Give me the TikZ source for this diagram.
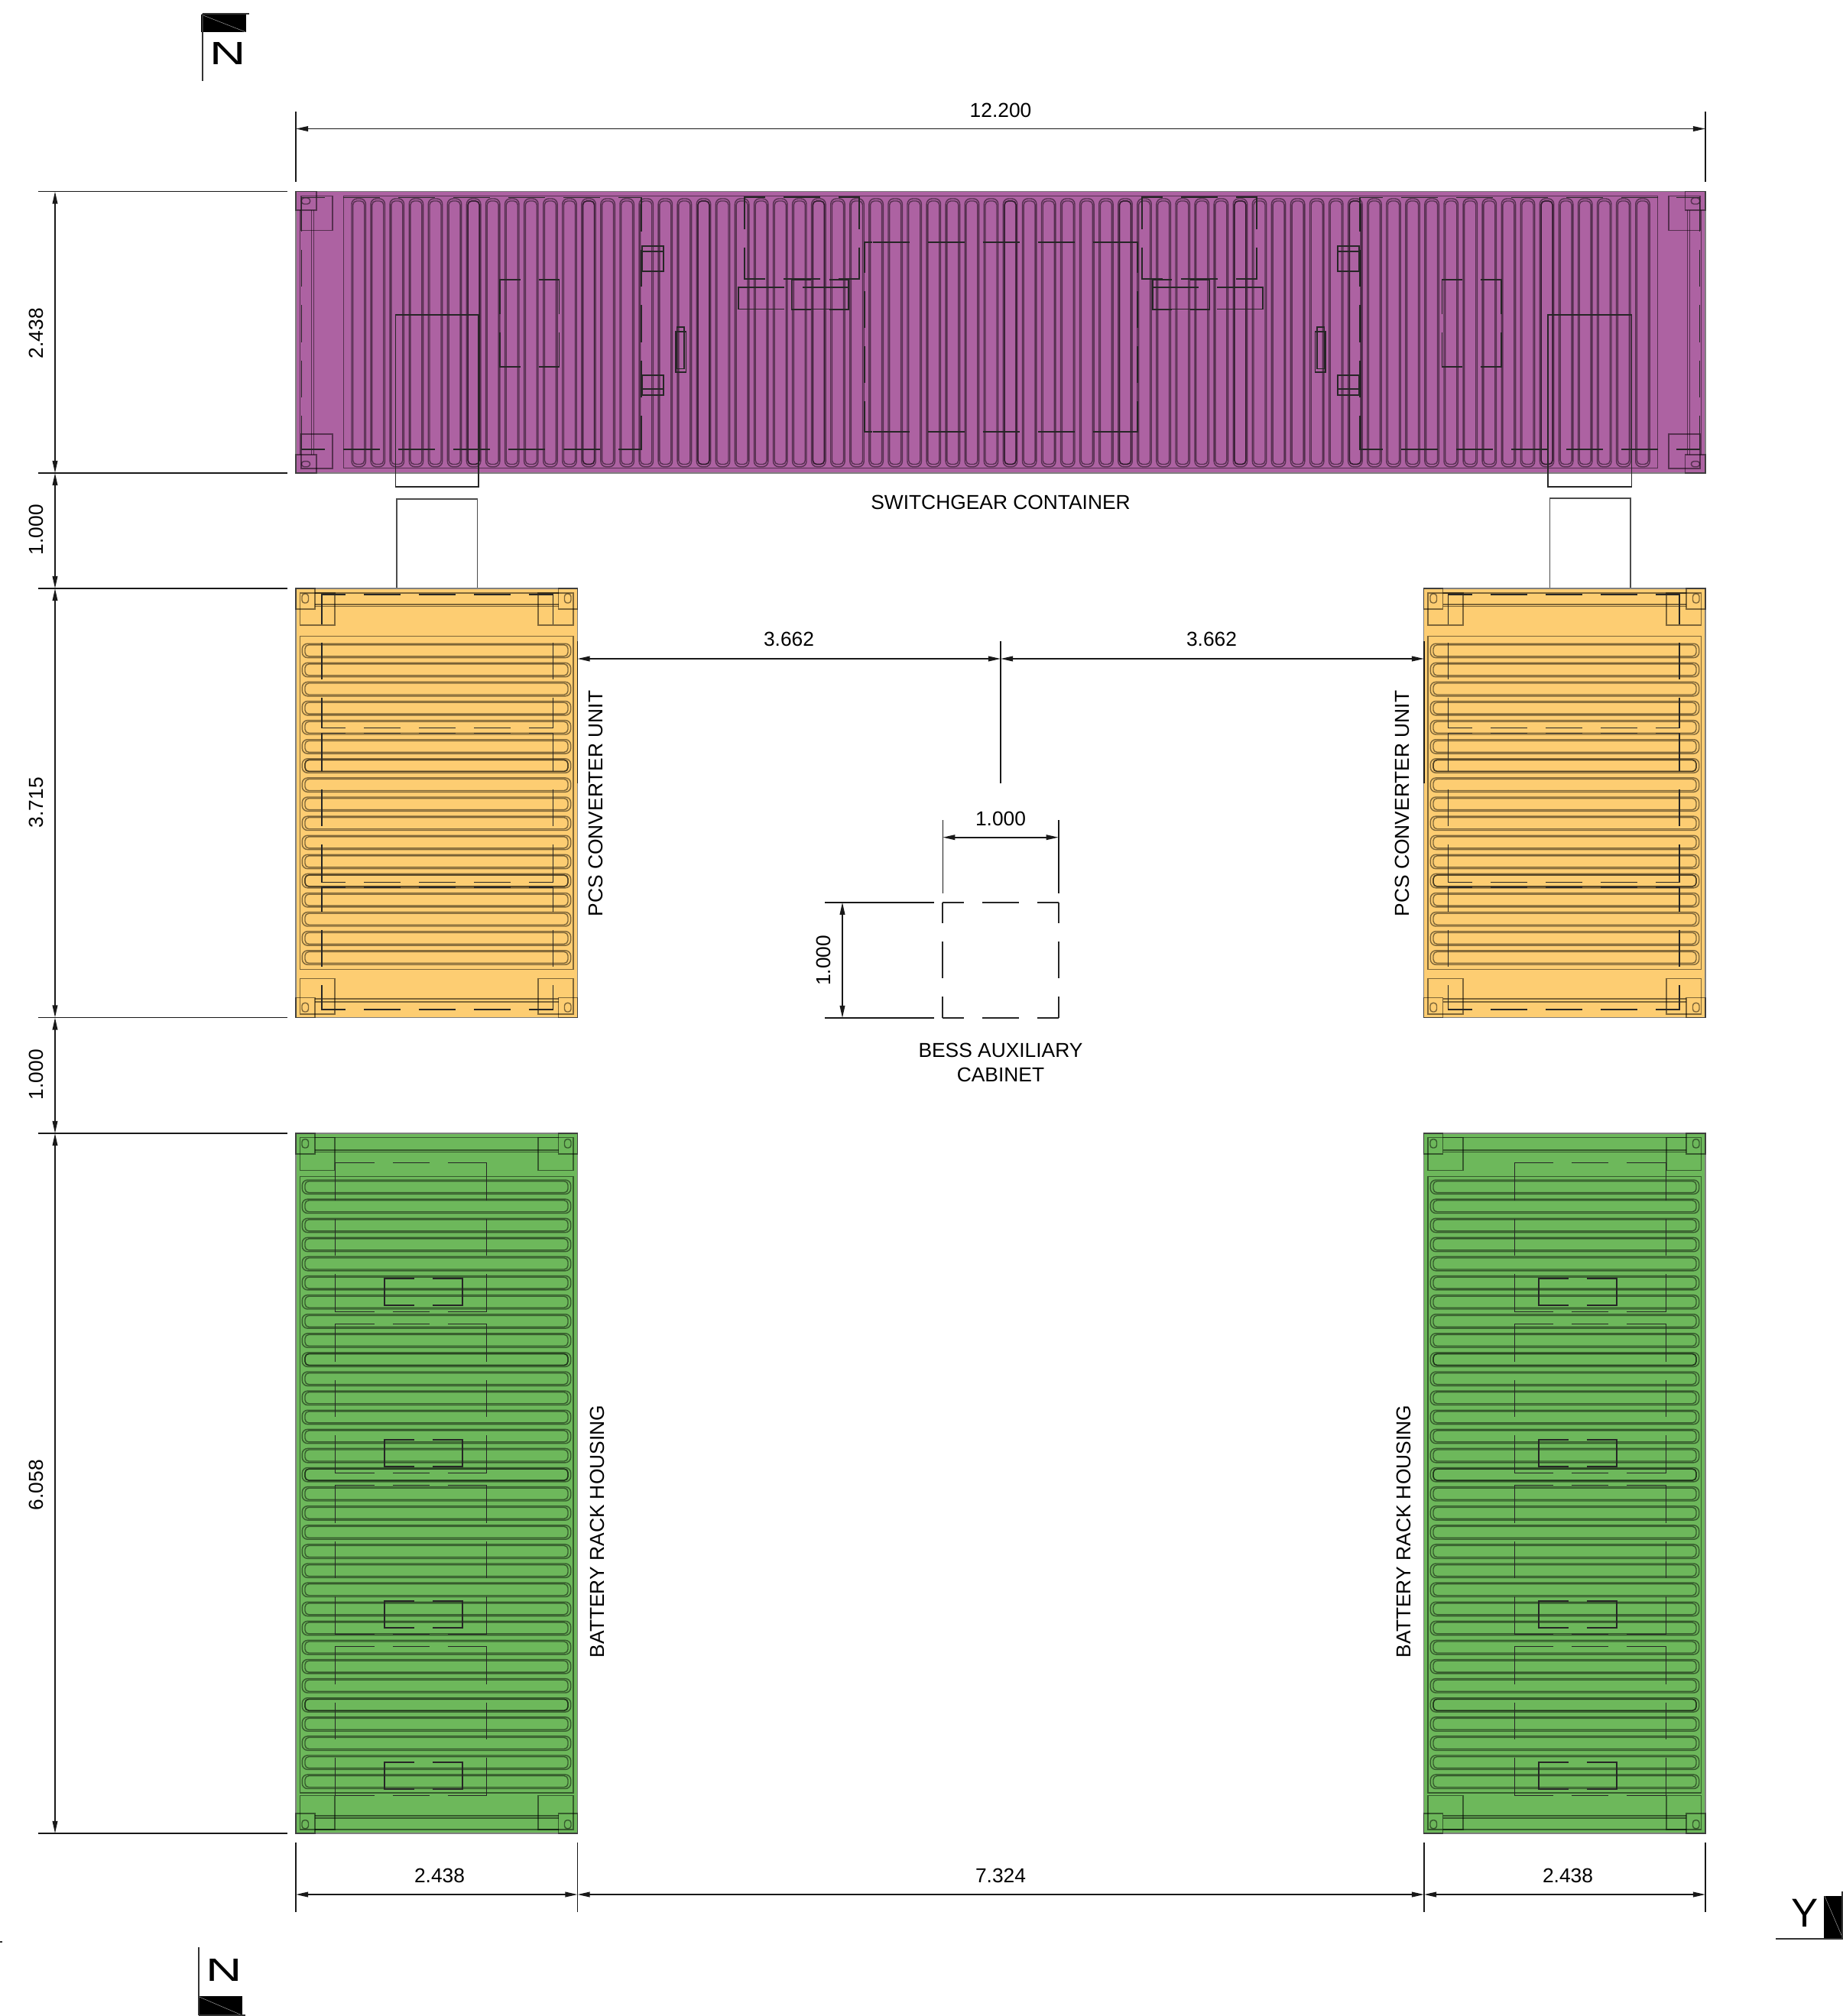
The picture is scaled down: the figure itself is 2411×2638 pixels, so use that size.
\documentclass[tikz,border=0pt]{standalone}
\usepackage{fontspec}
\setmainfont{Liberation Sans}
\usetikzlibrary{arrows.meta,positioning}
\definecolor{swfill}{HTML}{AD62A2}
\definecolor{pcsfill}{HTML}{FDCD72}
\definecolor{batfill}{HTML}{6DB85B}

% one side of a dashed outline, a dash (or with shift 36 a gap) in its middle
\newcommand{\dashseg}[6][dashline]{%
  \pgfmathsetmacro{\seglen}{abs(#4-#2)+abs(#5-#3)}%
  \pgfmathsetmacro{\segphase}{mod(24-\seglen/2+#6+720,72)*0.2845}%
  \draw[#1,dash phase=\segphase pt] (#2,#3) -- (#4,#5);%
}
\newcommand{\dashedrect}[6]{%
  \dashseg{#1}{#2}{#3}{#2}{#5}\dashseg{#1}{#4}{#3}{#4}{#5}%
  \dashseg{#1}{#2}{#1}{#4}{#6}\dashseg{#3}{#2}{#3}{#4}{#6}%
  \draw[detail] (#1+4,#2) -- (#1,#2) -- (#1,#2+4) (#3-4,#2) -- (#3,#2) -- (#3,#2+4)
    (#1+4,#4) -- (#1,#4) -- (#1,#4-4) (#3-4,#4) -- (#3,#4) -- (#3,#4-4);%
}
% rectangle open in the middle of its long sides
\newcommand{\splitrect}[7][detail]{%
  \draw[#1] (#6,#3) -- (#2,#3) -- (#2,#5) -- (#6,#5);%
  \draw[#1] (#7,#3) -- (#4,#3) -- (#4,#5) -- (#7,#5);%
}
\newcommand{\cornerposts}[4]{%
  \foreach \xa/\xb in {387/412,730.5/755.5}{
    \draw[rib] (\xa,#1) rectangle (\xb,#2);
    \draw[rib,rounded corners=1pt] (\xa+8,#3) rectangle (\xa+16.5,#4);
  }%
}
\newcommand{\ribh}[1]{%
  \draw[rib,rounded corners=2pt] (395.3,#1) rectangle (746.7,#1+18.4);%
  \draw[rib,rounded corners=1.4pt] (399,#1+1.6) rectangle (743,#1+16.6);%
}
\newcommand{\ribhdark}[1]{%
  \draw[ribdark,rounded corners=1.4pt] (399,#1+1.6) rectangle (743,#1+16.6);%
}
\newcommand{\ribv}[1]{%
  \draw[rib,rounded corners=2pt] (#1,260) rectangle (#1+18.4,610.7);%
  \draw[rib,rounded corners=1.4pt] (#1+1.7,263) rectangle (#1+16.7,607.5);%
}

% left half of the switchgear container, used twice
\newcommand{\swhalf}{%
  \draw[rib] (387,250.5) rectangle (413.8,275);
  \draw[rib] (387,595) rectangle (413.8,619);
  \draw[rib,rounded corners=1pt] (394.4,259) rectangle (405.6,267);
  \draw[rib,rounded corners=1pt] (394.4,603.6) rectangle (405.6,610.7);
  \draw[rib] (394,256.6) rectangle (435,301.5);
  \draw[rib] (394,568) rectangle (435,613);
  \draw[rib] (407.3,275) -- (407.3,595);
  \draw[rib] (410.7,275) -- (410.7,595);
  \draw[rib] (392.3,275) -- (392.3,595);
  \dashedrect{394.4}{258.7}{839}{588}{0}{0}
  \dashedrect{654}{366}{731.6}{480}{36}{36}
  \draw[detail] (840,322) rectangle (868,355);
  \draw[detail] (840,329) -- (868,329);
  \draw[detail] (840,491) rectangle (868,517);
  \draw[detail] (840,509) -- (868,509);
  \draw[detail] (884,434) rectangle (897.6,487);
  \draw[detail] (885.7,428) rectangle (895,482.7);
  \dashedrect{974}{258}{1124}{365}{0}{36}
  \splitrect{966}{376}{1110}{404.5}{1026}{1050}
  \dashedrect{1035.5}{366}{1110}{405}{36}{0}
}
% converter unit in the left column
\newcommand{\pcsunit}{%
  \draw[hull,fill=pcsfill] (387,770) rectangle (755.5,1331.5);
  \draw[rib] (392.3,776) rectangle (438,818);
  \draw[rib] (704,776) rectangle (750,818);
  \draw[rib] (392.3,1280.7) rectangle (438,1327);
  \draw[rib] (704,1280.7) rectangle (750,1327);
  \draw[rib] (412,776) -- (730.5,776);
  \draw[rib] (412,791) -- (730.5,791);
  \draw[rib] (412,793.7) -- (730.5,793.7);
  \draw[rib] (412,1307) -- (730.5,1307);
  \draw[rib] (412,1311) -- (730.5,1311);
  \cornerposts{770}{797}{777}{789}
  \cornerposts{1305.5}{1331.5}{1312.4}{1324}
  \draw[rib] (392.3,832.7) rectangle (750,1268.5);
  \foreach \n in {0,...,16}{\pgfmathsetmacro{\yy}{842.2+25.1*\n}\ribh{\yy}}
  \foreach \n in {6,12}{\pgfmathsetmacro{\yy}{842.2+25.1*\n}\ribhdark{\yy}}
  \dashedrect{421}{778}{723.3}{952.7}{0}{0}
  \dashedrect{421}{959.2}{723.3}{1154.5}{0}{0}
  \dashedrect{421}{1161}{723.3}{1321}{0}{0}
}
% battery housing in the left column
\newcommand{\batunit}{%
  \draw[hull,fill=batfill] (387,1483) rectangle (755.5,2399);
  \draw[rib] (392.3,1488.7) rectangle (438,1531.7);
  \draw[rib] (704,1488.7) rectangle (750,1531.7);
  \draw[rib] (392.3,2349.3) rectangle (438,2394);
  \draw[rib] (704,2349.3) rectangle (750,2394);
  \draw[rib] (412,1488.7) -- (730.5,1488.7);
  \draw[rib] (412,1505) -- (730.5,1505);
  \draw[rib] (412,1507.7) -- (730.5,1507.7);
  \draw[rib] (412,2376) -- (730.5,2376);
  \draw[rib] (412,2379) -- (730.5,2379);
  \draw[rib] (412,2394) -- (730.5,2394);
  \cornerposts{1483}{1510}{1490.7}{1502}
  \cornerposts{2373}{2399}{2381.7}{2392.7}
  \draw[rib] (392.3,1539.3) rectangle (750,2346);
  \foreach \n in {0,...,31}{\pgfmathsetmacro{\yy}{1544+25.1*\n}\ribh{\yy}}
  \foreach \n in {9,15,27}{\pgfmathsetmacro{\yy}{1544+25.1*\n}\ribhdark{\yy}}
  \foreach \n in {0,...,3}{
    \pgfmathsetmacro{\ya}{1521.7+211*\n}
    \pgfmathsetmacro{\yb}{\ya+195}
    \dashedrect{438.7}{\ya}{636.7}{\yb}{0}{0}
    \pgfmathsetmacro{\yc}{1672.7+211*\n}
    \pgfmathsetmacro{\yd}{\yc+35.6}
    \splitrect[latch]{502.7}{\yc}{604.7}{\yd}{541.7}{566}
  }
}

\begin{document}
\begin{tikzpicture}[
  x=0.01cm, y=-0.01cm,
  hull/.style={draw=black!50, line width=0.5pt},
  rib/.style={draw=black, draw opacity=0.5, line width=0.4pt},
  ribdark/.style={draw=black, draw opacity=0.45, line width=0.45pt},
  detail/.style={draw=black!85, line width=0.35pt},
  latch/.style={draw=black!85, line width=0.6pt},
  dashline/.style={detail, dash pattern=on 13.66pt off 6.83pt},
  cabline/.style={draw=black!85, line width=0.55pt, dash pattern=on 13.66pt off 6.83pt},
  extline/.style={draw=black!90, line width=0.45pt},
  dimline/.style={draw=black!90, line width=0.45pt,
                  {Triangle[length=4.6pt,width=1.9pt]}-{Triangle[length=4.6pt,width=1.9pt]}},
  lbl/.style={inner sep=0pt, font=\fontsize{7.5}{9.1}\selectfont, align=center},
  vlbl/.style={lbl, rotate=90},
  axisname/.style={inner sep=0pt, font=\fontsize{15}{15}\selectfont},
  northname/.style={inner sep=0pt, font=\fontsize{12}{12}\selectfont, xscale=1.55},
  axisflag/.style={fill=black, draw=black, line width=0.3pt},
  axisline/.style={draw=black!80, line width=0.5pt}
]
  \path[use as bounding box] (0,0) rectangle (2411,2638);

  % Switchgear container
  \draw[hull,fill=swfill] (387,250.5) rectangle (2231,619);
  \draw[rib] (449.5,256.7) rectangle (2168.5,612.7);
  \foreach \n in {0,...,67}{\pgfmathsetmacro{\xx}{460+25.07*\n}\ribv{\xx}}
  \foreach \n in {6,12,18,24,34,40,46,52,62}{
    \pgfmathsetmacro{\xx}{460+25.07*\n}
    \draw[ribdark,rounded corners=1.4pt] (\xx+1.7,263) rectangle (\xx+16.7,607.5);
  }
  \swhalf
  \begin{scope}[shift={(2618,0)},xscale=-1]
    \swhalf
  \end{scope}
  \dashedrect{1131}{317}{1488}{565}{0}{36}
  \draw[detail] (1131,317) -- (1141,317) (1131,565) -- (1141,565);
  \draw[detail] (1478,317) -- (1488,317) (1478,565) -- (1488,565);
  \node[lbl] (swname) at (1309,657) {SWITCHGEAR CONTAINER};

  % Links down to the converter units
  \draw[detail] (517.3,412) rectangle (626,637);
  \draw[detail] (2025,412) rectangle (2134.7,637);
  \draw[extline,draw=black!70] (519,653) rectangle (624.5,770);
  \draw[extline,draw=black!70] (2027.3,652) rectangle (2132.7,769.5);

  % Converter units
  \pcsunit
  \begin{scope}[shift={(2618,0)},xscale=-1]
    \pcsunit
  \end{scope}
  \node[vlbl] (pcsleft) at (779,1051.5) {PCS CONVERTER UNIT};
  \node[vlbl] (pcsright) at (1834,1051.5) {PCS CONVERTER UNIT};

  % Battery housings
  \batunit
  \begin{scope}[shift={(2618,0)},xscale=-1]
    \batunit
  \end{scope}
  \node[vlbl] (batleft) at (781,2004) {BATTERY RACK HOUSING};
  \node[vlbl] (batright) at (1836,2004) {BATTERY RACK HOUSING};

  % Auxiliary cabinet
  \dashseg[cabline]{1233.3}{1180.7}{1384.7}{1180.7}{0}
  \dashseg[cabline]{1233.3}{1332}{1384.7}{1332}{0}
  \dashseg[cabline]{1233.3}{1180.7}{1233.3}{1332}{0}
  \dashseg[cabline]{1384.7}{1180.7}{1384.7}{1332}{0}
  \node[lbl] (auxname) at (1309,1390.5) {BESS AUXILIARY\\CABINET};

  % Overall length
  \coordinate (topa) at (387,168.5);
  \coordinate (topb) at (2231,168.5);
  \draw[extline] (387,146.4) -- (387,238);
  \draw[extline] (2231,146.4) -- (2231,238);
  \draw[dimline] (topa) -- (topb);
  \node[lbl] (toplen) at (1309,144.7) {12.200};

  % Heights along the left side
  \foreach \nm/\yy in {a/250.5,b/619,c/770,d/1331.5,e/1483,f/2399}{
    \coordinate (side\nm) at (72,\yy);
    \draw[extline] (49.5,\yy) -- (375.5,\yy);
  }
  \foreach \p/\q in {sidea/sideb,sideb/sidec,sidec/sided,sided/sidee,sidee/sidef}
    \draw[dimline] (\p) -- (\q);
  \node[vlbl] (hswitch) at (47,436) {2.438};
  \node[vlbl] (hgapa) at (47,693) {1.000};
  \node[vlbl] (hpcs) at (47,1050) {3.715};
  \node[vlbl] (hgapb) at (47,1406) {1.000};
  \node[vlbl] (hbat) at (47,1943) {6.058};

  % Widths along the bottom
  \foreach \nm/\xx in {a/387,b/755.5,c/1863,d/2231}{
    \coordinate (base\nm) at (\xx,2479);
    \draw[extline] (\xx,2411) -- (\xx,2501.7);
  }
  \foreach \p/\q in {basea/baseb,baseb/basec,basec/based}
    \draw[dimline] (\p) -- (\q);
  \node[lbl] (wleft) at (575,2454) {2.438};
  \node[lbl] (wmid) at (1309,2454) {7.324};
  \node[lbl] (wright) at (2051,2454) {2.438};

  % Distance from the cabinet axis to the converter units
  \coordinate (axa) at (755.5,862);
  \coordinate (axb) at (1309,862);
  \coordinate (axc) at (1863,862);
  \draw[dimline] (axb) -- (axa);
  \draw[dimline] (axb) -- (axc);
  \foreach \xx in {755.5,1309,1863}
    \draw[extline] (\xx,839) -- (\xx,1025);
  \node[lbl] (axleft) at (1032,836) {3.662};
  \node[lbl] (axright) at (1585,836) {3.662};

  % Cabinet size
  \coordinate (cabwa) at (1233.3,1095.7);
  \coordinate (cabwb) at (1384.7,1095.7);
  \coordinate (cabha) at (1102,1180.7);
  \coordinate (cabhb) at (1102,1332);
  \draw[extline] (1233.3,1073) -- (1233.3,1169);
  \draw[extline] (1384.7,1073) -- (1384.7,1169);
  \draw[extline] (1079,1180.7) -- (1222,1180.7);
  \draw[extline] (1079,1332) -- (1222,1332);
  \draw[dimline] (cabwa) -- (cabwb);
  \draw[dimline] (cabha) -- (cabhb);
  \node[lbl] (cabw) at (1309,1071) {1.000};
  \node[vlbl] (cabh) at (1077,1256.7) {1.000};

  % Axis markers
  \draw[axisflag] (264,19.3) rectangle (321,41.7);
  \draw[draw=white!60!black, line width=0.15pt] (264,19.3) -- (321,41.7);
  \draw[axisline] (264.7,18.3) -- (326,18.3);
  \draw[axisline] (264.7,18.3) -- (264.7,106);
  \node[northname] (ntop) at (298,70) {N};

  \draw[axisflag] (260,2612.7) rectangle (316,2636.7);
  \draw[draw=white!60!black, line width=0.15pt] (260,2612.7) -- (316,2636.7);
  \draw[axisline] (260,2637) -- (321,2637);
  \draw[axisline] (260,2548) -- (260,2637);
  \node[northname] (nbot) at (293,2578) {N};

  \draw[axisflag] (2387,2481) rectangle (2411,2537);
  \draw[draw=white!60!black, line width=0.15pt] (2387,2481) -- (2411,2537);
  \draw[axisline] (2323,2537) -- (2411,2537);
  \draw[axisline] (2410,2475) -- (2410,2537);
  \node[axisname] (yaxis) at (2361.5,2503.5) {Y};
  \draw[axisline] (0,2541) -- (3,2541);
\end{tikzpicture}
\end{document}
